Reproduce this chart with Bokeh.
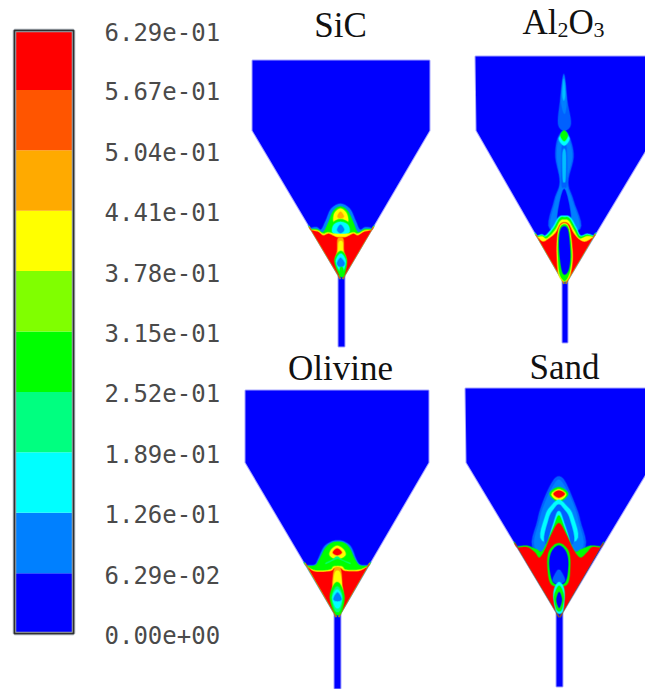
from bokeh.plotting import figure
from bokeh.embed import file_html
from bokeh.resources import INLINE
from bokeh.models import Range1d
from bokeh.core.properties import value

W, H = 645, 689
# ---- colour bar values
levels = [0.0, 0.0629, 0.126, 0.189, 0.252, 0.315, 0.378, 0.441, 0.504, 0.567, 0.629]
level_labels = ["0.00e+00", "6.29e-02", "1.26e-01", "1.89e-01", "2.52e-01", "3.15e-01",
                "3.78e-01", "4.41e-01", "5.04e-01", "5.67e-01", "6.29e-01"]
level_colors = ["#0000ff", "#0080ff", "#00ffff", "#00ff80", "#00ff00", "#80ff00",
                "#ffff00", "#ffaa00", "#ff5500", "#ff0000"]
B, S, C, M, G, L, Y, O, N, R = level_colors
Q = "#0060ff"
T = "#00c0ff"

# ---- panel titles
titles = ["SiC", "Olivine", "Sand"]
title_x = [340, 340, 564]
title_y = [25, 368, 367]

# ---- vessel outlines, page pixels
sic_vessel = [(252, 60), (429, 60), (429, 130), (344, 275), (344, 346), (338, 346), (338, 275), (252, 130)]
alu_vessel = [(475, 56), (657, 56), (657, 130), (567, 280), (567, 342), (562, 342), (562, 280), (476, 130)]
oli_vessel = [(245, 390), (428, 390), (428, 462), (340, 613), (340, 688), (334, 688), (334, 613), (245, 462)]
san_vessel = [(465, 388), (652, 388), (652, 462), (562, 612), (562, 686), (556, 686), (556, 612), (466, 462)]

# ---- contour bands (3x crops): colour, outline
sic_tip = [(312,285),(312,285),(294,285),(294,285)]
sic_origin = (240, 180)
sic_bands = [
    (S, [(210,143),(210,143),(228,140),(242,147),(256,120),(272,85),(300,70),(328,85),(345,120),(358,147),(375,140),(395,143),(395,143)] + sic_tip),
    (G, [(211,146),(211,146),(230,146),(248,155),(264,125),(278,92),(300,78),(322,92),(338,125),(352,155),(372,146),(394,146),(394,146)] + sic_tip),
    (Y, [(280,125),(282,98),(300,84),(318,98),(322,125),(300,130)]),
    (O, [(291,108),(300,94),(310,108),(300,113)]),
    (G, [(268,160),(274,130),(300,116),(328,130),(334,160),(300,170)]),
    (C, [(276,155),(280,133),(300,124),(322,133),(326,155),(300,165)]),
    (S, [(290,148),(300,133),(311,148),(300,158)]),
    (Y, [(212,148),(212,148),(232,150),(248,160),(262,156),(285,160),(318,160),(340,156),(352,160),(372,150),(393,148),(393,148)] + sic_tip),
    (R, [(213,150),(213,150),(232,154),(248,165),(265,160),(288,170),(316,170),(338,160),(352,165),(372,154),(392,150),(392,150)] + sic_tip),
    (O, [(292,175),(308,175),(310,210),(318,240),(312,270),(296,270),(284,240),(290,210)]),
    (Y, [(295,185),(306,185),(308,215),(316,240),(310,268),(298,268),(286,240),(292,215)]),
    (G, [(294,215),(308,215),(319,242),(311,284),(297,284),(282,242)]),
    (C, [(296,222),(306,222),(316,243),(308,272),(298,272),(286,243)]),
    (S, [(300,232),(312,248),(306,258),(296,258),(290,248)]),
    (G, [(299,262),(307,262),(310,285),(298,285)]),
]
alu_tip = [(306,690),(306,690),(291,690),(291,690)]
alu_origin = (465, 50)
alu_bands = [
    (Q, [(278,220),(284,150),(295,70),(305,150),(316,220),(296,240)]),
    (S, [(287,150),(295,75),(303,150),(297,190)]),
    (T, [(291,130),(295,85),(299,130),(295,150)]),
    (Q, [(253,535),(266,450),(283,395),(270,320),(276,265),(296,240),(314,265),(324,320),(308,395),(324,450),(344,535)]),
    (S, [(258,535),(270,450),(285,395),(274,320),(280,265),(296,246),(310,265),(320,320),(304,395),(320,450),(340,535)]),
    (B, [(296,415),(276,510),(316,510)]),
    (Q, [(288,300),(296,275),(304,300),(304,400),(296,410),(288,400)]),
    (T, [(291,315),(296,295),(301,315),(300,385),(296,395),(292,385)]),
    (C, [(280,265),(296,248),(312,265),(296,285)]),
    (G, [(285,255),(296,240),(307,255),(296,272)]),
    (C, [(214,556),(214,556),(230,552),(240,555),(262,530),(280,500),(297,496),(314,500),(332,530),(345,555),(365,550),(385,556),(385,556)] + alu_tip),
    (G, [(215,558),(215,558),(230,555),(242,558),(264,535),(282,504),(297,500),(312,504),(330,535),(344,558),(365,553),(384,558),(384,558)] + alu_tip),
    (Y, [(216,560),(216,560),(230,558),(244,564),(268,540),(284,512),(297,508),(310,512),(326,540),(342,564),(365,557),(383,560),(383,560)] + alu_tip),
    (R, [(217,562),(217,562),(232,574),(248,566),(270,548),(284,522),(297,516),(310,522),(324,548),(342,568),(360,574),(382,562),(382,562)] + alu_tip),
    (Y, [(274,590),(280,535),(296,518),(312,535),(321,610),(316,665),(304,690),(290,690),(278,665)]),
    (G, [(277,590),(282,537),(296,522),(310,537),(318,610),(313,662),(302,688),(292,688),(281,662)]),
    (B, [(281,590),(284,542),(296,528),(308,542),(314,610),(310,655),(298,672),(288,655)]),
]
oli_tip = [(300,339),(300,339),(282,339),(282,339)]
oli_origin = (240, 500)
oli_bands = [
    (S, [(197,194),(197,194),(222,193),(232,178),(250,140),(272,124),(292,120),(312,124),(332,140),(348,178),(360,193),(384,194),(384,194)] + oli_tip),
    (G, [(198,196),(198,196),(224,195),(236,178),(254,144),(272,128),(292,124),(312,128),(328,144),(344,178),(358,195),(383,196),(383,196)] + oli_tip),
    (Y, [(268,165),(272,148),(290,136),(310,148),(314,165),(290,176)]),
    (R, [(277,156),(290,144),(304,156),(290,164)]),
    (M, [(255,190),(275,178),(290,168),(305,178),(330,190),(290,198)]),
    (G, [(225,207),(250,195),(285,178),(298,178),(335,195),(358,207)]),
    (Y, [(200,198),(200,198),(224,210),(268,208),(280,198),(304,198),(316,208),(355,208),(381,198),(381,198)] + oli_tip),
    (R, [(202,200),(202,200),(224,214),(270,212),(282,204),(300,204),(314,212),(355,212),(380,200),(380,200)] + oli_tip),
    (O, [(282,205),(300,205),(304,250),(300,270),(282,270),(276,250)]),
    (Y, [(284,215),(298,215),(304,250),(306,280),(276,280),(278,250)]),
    (G, [(282,250),(298,250),(312,290),(301,338),(283,338),(268,290)]),
    (M, [(284,262),(296,262),(306,292),(298,330),(284,330),(274,292)]),
    (C, [(285,270),(295,270),(304,292),(297,320),(285,320),(276,292)]),
    (S, [(291,276),(303,296),(291,302),(279,296)]),
]
san_tip = [(291,516),(291,516),(273,516),(273,516)]
san_origin = (465, 440)
san_bands = [
    (Q, [(208,328),(216,240),(236,175),(262,122),(280,108),(298,122),(322,175),(344,240),(352,328)]),
    (S, [(214,328),(222,240),(242,178),(264,135),(280,118),(296,135),(318,178),(338,240),(346,328)]),
    (G, [(252,160),(280,140),(308,160),(280,184)]),
    (Y, [(258,162),(280,146),(302,162),(280,180)]),
    (R, [(264,160),(280,150),(298,160),(280,172)]),
    (C, [(230,300),(240,225),(258,195),(280,178),(302,195),(322,225),(332,300)]),
    (Q, [(240,310),(250,235),(266,205),(280,192),(294,205),(312,235),(322,310)]),
    (C, [(250,320),(268,235),(280,212),(292,235),(312,320)]),
    (G, [(155,318),(155,318),(185,316),(212,326),(232,330),(262,265),(280,225),(298,265),(326,330),(348,326),(375,316),(406,318),(406,318)] + san_tip),
    (R, [(157,322),(157,322),(185,320),(208,336),(222,352),(240,325),(258,282),(280,248),(302,282),(322,325),(344,352),(365,336),(380,320),(404,322),(404,322)] + san_tip),
    (G, [(246,375),(252,330),(280,308),(308,330),(314,375),(304,432),(258,432)]),
    (B, [(252,375),(258,335),(280,315),(302,335),(308,375),(298,426),(264,426)]),
    (Q, [(262,420),(272,395),(280,388),(288,395),(298,420),(280,430)]),
    (C, [(264,470),(268,440),(281,425),(294,440),(297,470),(291,514),(273,514)]),
    (G, [(266,472),(272,448),(281,436),(290,448),(295,472),(288,508),(274,508)]),
    (B, [(273,478),(281,455),(289,478),(281,502)]),
]


def spline(pts, steps=6):
    """Closed Catmull-Rom curve through the read outline points."""
    n = len(pts)
    out = []
    for i in range(n):
        p0, p1, p2, p3 = pts[i - 1], pts[i], pts[(i + 1) % n], pts[(i + 2) % n]
        for k in range(steps):
            t = k / steps
            out.append(tuple(
                0.5 * (2 * p1[d] + (p2[d] - p0[d]) * t
                       + (2 * p0[d] - 5 * p1[d] + 4 * p2[d] - p3[d]) * t * t
                       + (3 * p1[d] - p0[d] - 3 * p2[d] + p3[d]) * t ** 3)
                for d in (0, 1)))
    return out


p = figure(width=W, height=H, x_range=Range1d(0, W), y_range=Range1d(H, 0),
           toolbar_location=None, output_backend="svg", min_border=0,
           outline_line_color=None, background_fill_color="white", border_fill_color="white")
p.xaxis.visible = False
p.yaxis.visible = False
p.grid.visible = False

# colour bar on its own value scale, through the library's range
px_per_unit = (633 - 30) / levels[-1]
p.extra_y_ranges["bar"] = Range1d((633 - H) / px_per_unit, 633 / px_per_unit)
p.quad(left=[14] * 10, right=[73] * 10, bottom=levels[:-1], top=levels[1:],
       fill_color=level_colors, line_color=None, y_range_name="bar")
p.quad(left=[14], right=[73], bottom=[levels[0]], top=[levels[-1]], fill_color=None,
       line_color="#a0a8b0", line_width=3.5, y_range_name="bar")
p.quad(left=[14], right=[73], bottom=[levels[0]], top=[levels[-1]], fill_color=None,
       line_color="#303030", line_width=1.5, y_range_name="bar")
p.text(x=[104] * 11, y=[v - 1.5 / px_per_unit for v in levels], text=level_labels,
       text_font=value("DejaVu Sans Mono"), text_font_size="24px", text_color="#4a4a4a",
       text_baseline="middle", text_align="left", y_range_name="bar")

# vessels and their contour bands
for vessel in (sic_vessel, alu_vessel, oli_vessel, san_vessel):
    xs, ys = zip(*vessel)
    p.patch(list(xs), list(ys), fill_color=B, line_color=B, line_alpha=0.35, line_width=2)

for origin, bands in ((sic_origin, sic_bands), (alu_origin, alu_bands),
                      (oli_origin, oli_bands), (san_origin, san_bands)):
    for color, outline in bands:
        smooth = spline(outline)
        xs = [origin[0] + a / 3 for a, _ in smooth]
        ys = [origin[1] + b / 3 for _, b in smooth]
        p.patch(xs, ys, fill_color=color, line_color=color, line_alpha=0.35, line_width=1.5)

# titles
serif = value("Liberation Serif")
p.text(x=title_x, y=title_y, text=titles, text_font=serif, text_font_size="35px",
       text_color="#111111", text_align="center", text_baseline="alphabetic")
p.text(x=[522, 568], y=[22, 22], text=["Al", "O"], text_font=serif, text_font_size="35px",
       text_color="#111111", text_baseline="alphabetic")
p.text(x=[557, 593], y=[29, 29], text=["2", "3"], text_font=serif, text_font_size="22px",
       text_color="#111111", text_baseline="alphabetic")

open("out.html", "w").write(file_html(p, INLINE))
